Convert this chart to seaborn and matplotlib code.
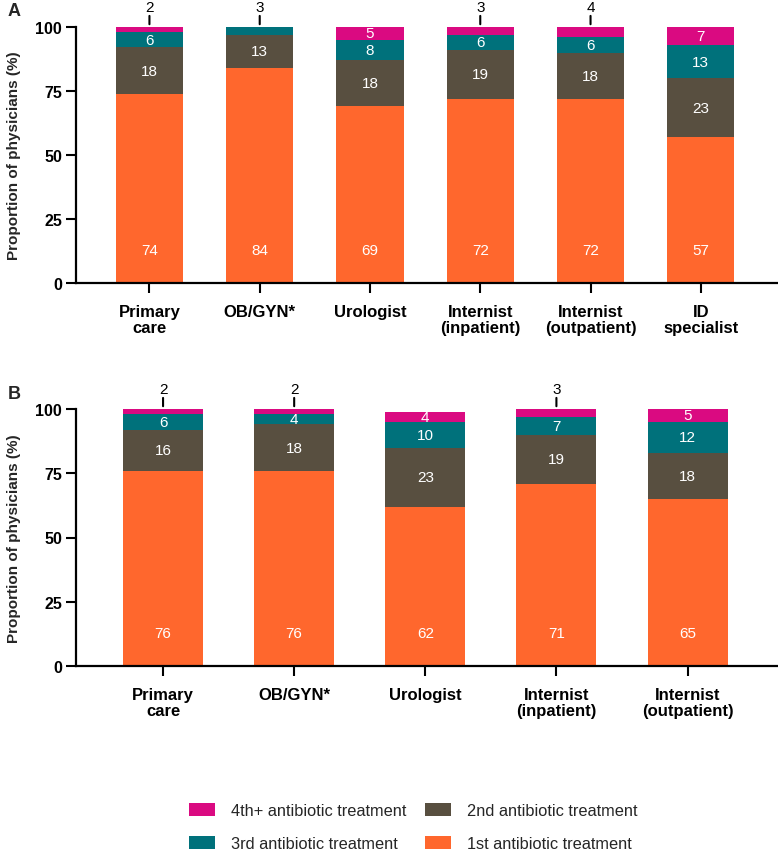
import matplotlib
matplotlib.use("Agg")
import matplotlib.pyplot as plt
import seaborn as sns
import numpy as np
from matplotlib.patches import Patch

sns.set_theme(style="ticks")
plt.rcParams['font.family'] = ['Liberation Sans', 'DejaVu Sans']

# ---------------- data ----------------
cats_a = ["Primary\ncare", "OB/GYN*", "Urologist", "Internist\n(inpatient)",
          "Internist\n(outpatient)", "ID\nspecialist"]
first_a = [74, 84, 69, 72, 72, 57]
second_a = [18, 13, 18, 19, 18, 23]
third_a = [6, 3, 8, 6, 6, 13]
fourth_a = [2, 0, 5, 3, 4, 7]
outside_a = [True, True, False, True, True, False]   # top label drawn above bar

cats_b = ["Primary\ncare", "OB/GYN*", "Urologist", "Internist\n(inpatient)",
          "Internist\n(outpatient)"]
first_b = [76, 76, 62, 71, 65]
second_b = [16, 18, 23, 19, 18]
third_b = [6, 4, 10, 7, 12]
fourth_b = [2, 2, 4, 3, 5]
outside_b = [True, True, False, True, False]

series_names = ["1st antibiotic treatment", "2nd antibiotic treatment",
                "3rd antibiotic treatment", "4th+ antibiotic treatment"]
colors = ["#FF672D", "#584F40", "#00717B", "#DA0A81"]
yticks = [0, 25, 50, 75, 100]
first_label_y = 13  # where the 1st-treatment value is printed

# ---------------- figure ----------------
fig = plt.figure(figsize=(7.78, 8.54), dpi=100)
ax_a = fig.add_axes([76/778, 1-284/854, 1-76/778, (284-28)/854])
ax_b = fig.add_axes([76/778, 1-667/854, 1-76/778, (667-410)/854])


def draw_panel(ax, cats, layers, outside, xlim):
    layers = [np.array(l, dtype=float) for l in layers]
    cum = np.cumsum(layers, axis=0)
    # draw from top of stack downward (overlay)
    for k in range(len(layers) - 1, -1, -1):
        sns.barplot(x=cats, y=cum[k], color=colors[k], width=0.61,
                    saturation=1, ax=ax, linewidth=0, order=cats)
    n = len(cats)
    for i in range(n):
        top_idx = max(k for k in range(len(layers)) if layers[k][i] > 0)
        for k in range(len(layers)):
            v = layers[k][i]
            if v <= 0:
                continue
            if k == top_idx and outside[i]:
                top = cum[k][i]
                ax.annotate("", xy=(i, top), xytext=(0, 8),
                            textcoords="offset points",
                            xycoords="data",
                            arrowprops=dict(arrowstyle="-", lw=1.5, color="black",
                                            shrinkA=0, shrinkB=2),
                            annotation_clip=False)
                ax.annotate(f"{int(v)}", xy=(i, top), xytext=(0, 9),
                            textcoords="offset points", ha="center", va="bottom",
                            fontsize=11, color="black", annotation_clip=False)
            elif k == 0:
                ax.text(i, first_label_y, f"{int(v)}", ha="center", va="center",
                        fontsize=11, color="white")
            else:
                mid = cum[k][i] - v / 2
                ax.text(i, mid, f"{int(v)}", ha="center", va="center",
                        fontsize=11, color="white")
    ax.set_ylim(0, 100)
    ax.set_xlim(*xlim)
    ax.set_yticks(yticks)
    ax.set_yticklabels([str(t) for t in yticks], fontsize=11.5, fontweight="bold")
    ax.set_xticks(range(n))
    ax.set_xticklabels(cats, fontsize=12, fontweight="bold", linespacing=1.1)
    ax.set_xlabel("")
    ax.set_ylabel("Proportion of physicians (%)", fontsize=11, fontweight="bold")
    ax.yaxis.set_label_coords(-0.079, 0.5)
    for s in ["top", "right"]:
        ax.spines[s].set_visible(False)
    for s in ["left", "bottom"]:
        ax.spines[s].set_linewidth(1.6)
        ax.spines[s].set_color("black")
    ax.tick_params(axis="y", length=7, width=1.5, pad=3, colors="black")
    ax.tick_params(axis="x", length=7, width=1.5, pad=8, colors="black")
    ax.patch.set_alpha(0)


draw_panel(ax_a, cats_a, [first_a, second_a, third_a, fourth_a], outside_a,
           (-0.666, 5.70))
draw_panel(ax_b, cats_b, [first_b, second_b, third_b, fourth_b], outside_b,
           (-0.664, 4.69))

fig.text(8/778, 1-12/854, "A", fontsize=13, fontweight="bold", va="center", ha="left")
fig.text(8/778, 1-395/854, "B", fontsize=13, fontweight="bold", va="center", ha="left")

order = [3, 2, 1, 0]
handles = [Patch(facecolor=colors[k], edgecolor="none") for k in order]
labels = [series_names[k] for k in order]
fig.legend(handles, labels, loc="center", bbox_to_anchor=(0.531, 1-828/854),
           ncol=2, frameon=False, fontsize=11.8, handlelength=1.6,
           handleheight=0.85, handletextpad=0.95, columnspacing=1.15,
           labelspacing=1.1)

fig.savefig("out.png", dpi=100)
